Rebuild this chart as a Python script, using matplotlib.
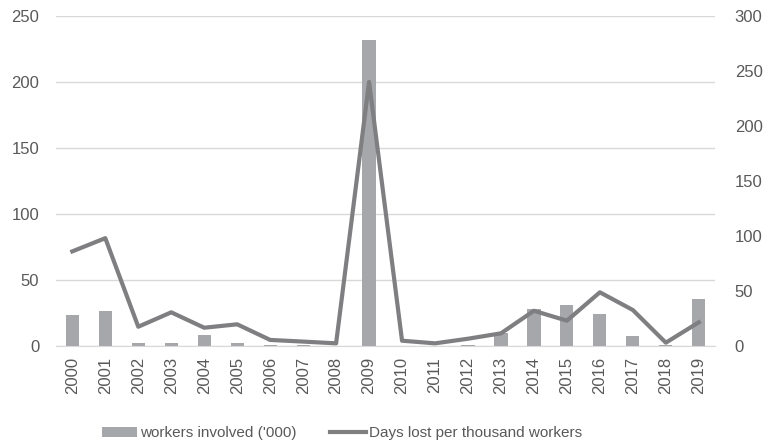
import matplotlib
matplotlib.use("Agg")
import matplotlib.pyplot as plt
import numpy as np

## Datos
years = [str(y) for y in range(2000, 2020)]
workers = [23.5, 26.5, 2.5, 2.5, 8.3, 2.3, 0.8, 0.5, 0.3, 232, 0.3, 0.3, 1.0, 10, 28, 31, 24, 7.6, 0.5, 35.4]
days_lost = [86, 98, 17.5, 30.6, 16.6, 19.7, 5.5, 4, 2.4, 240, 4.8, 2.4, 6.6, 11.5, 32, 23, 48.8, 32.7, 3, 21.5]

txt = '#595959'
plt.rcParams['font.family'] = ['Liberation Sans', 'DejaVu Sans']
plt.rcParams['font.size'] = 12

fig = plt.figure(figsize=(7.65, 4.43), dpi=100)
ax = fig.add_axes([0.073, 0.219, 0.862, 0.745])
x = np.arange(len(years))

bars = ax.bar(x, workers, width=0.4, color='#a5a7aa', label="workers involved ('000)", zorder=2)
ax.set_ylim(0, 250)
ax.set_yticks(range(0, 251, 50))
ax.set_xlim(-0.5, len(years) - 0.5)
ax.set_xticks(x)
ax.set_xticklabels(years, rotation=90)
ax.grid(axis='y', color='#d9d9d9', linewidth=1, zorder=0)
ax.set_axisbelow(True)
for s in ['top', 'left', 'right']:
    ax.spines[s].set_visible(False)
ax.spines['bottom'].set_color('#d9d9d9')
ax.tick_params(length=0, colors=txt, labelsize=12)
ax.tick_params(axis='y', pad=12)
ax.tick_params(axis='x', pad=8)

ax2 = ax.twinx()
line, = ax2.plot(x, days_lost, color='#7f7f82', linewidth=3, label='Days lost per thousand workers', zorder=3)
ax2.set_ylim(0, 300)
ax2.set_yticks(range(0, 301, 50))
for s in ax2.spines.values():
    s.set_visible(False)
ax2.tick_params(length=0, colors=txt, labelsize=12, pad=14)

fig.legend([bars, line], ["workers involved ('000)", 'Days lost per thousand workers'],
           loc='lower center', bbox_to_anchor=(0.447, -0.025), ncol=2, frameon=False,
           labelcolor=txt, fontsize=11, handlelength=2.3, handletextpad=0.2, columnspacing=2.2)

fig.savefig('out.png', dpi=100)
